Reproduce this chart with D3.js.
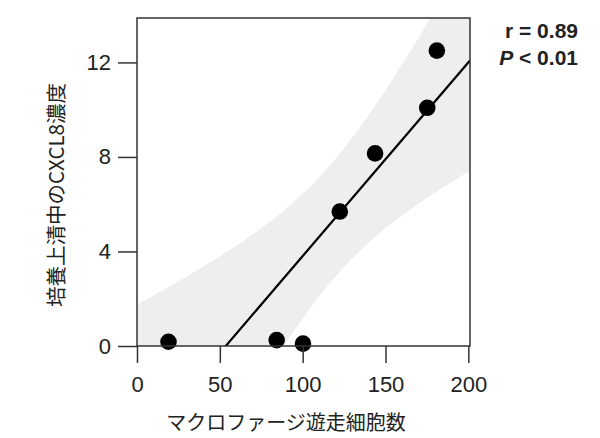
<!DOCTYPE html>
<html>
<head>
<meta charset="utf-8">
<script src="https://cdn.jsdelivr.net/npm/d3@7"></script>
<style>
  body { margin: 0; background: #fff; }
  text { font-family: "Liberation Sans", Arial, "Noto Sans CJK JP", sans-serif; fill: #222; }
  .jp { font-family: "Noto Sans CJK JP", "Liberation Sans", sans-serif; }
</style>
</head>
<body>
<div id="chart"></div>
<script>
// data
const migration = [19, 84.3, 100.2, 122.4, 143.7, 175.2, 181];   // x
const cxcl8 = [0.18, 0.25, 0.1, 5.69, 8.15, 10.08, 12.5];        // y
const xTicks = [0, 50, 100, 150, 200];
const yTicks = [0, 4, 8, 12];
const statLines = ["r = 0.89", "P < 0.01"];

const width = 600, height = 438;
const margin = { top: 18, right: 130, bottom: 92, left: 137 };

const x = d3.scaleLinear().domain([0, 201]).range([margin.left, width - margin.right]);
const y = d3.scaleLinear().domain([0, 13.88]).range([height - margin.bottom, margin.top]);

const svg = d3.select("#chart").append("svg")
    .attr("width", width)
    .attr("height", height);

// least squares fit + 95% confidence band
const n = migration.length;
const mx = d3.mean(migration), my = d3.mean(cxcl8);
let sxx = 0, sxy = 0;
migration.forEach((xi, i) => { sxx += (xi - mx) ** 2; sxy += (xi - mx) * (cxcl8[i] - my); });
const b = sxy / sxx, a = my - b * mx;
let sse = 0;
migration.forEach((xi, i) => { sse += (cxcl8[i] - (a + b * xi)) ** 2; });
const s = Math.sqrt(sse / (n - 2));
const tcrit = 2.5706; // df = 5

const grid = d3.range(0, 201.5, 1);
const band = grid.map(xv => {
    const fit = a + b * xv;
    const hw = tcrit * s * Math.sqrt(1 / n + (xv - mx) ** 2 / sxx);
    return { x: xv, lo: fit - hw, hi: fit + hw };
});

svg.append("clipPath").attr("id", "plotClip")
  .append("rect")
    .attr("x", x(0)).attr("y", y(13.88))
    .attr("width", x(201) - x(0)).attr("height", y(0) - y(13.88));

const plot = svg.append("g").attr("clip-path", "url(#plotClip)");

plot.append("path")
    .datum(band)
    .attr("fill", "#eeeeee")
    .attr("d", d3.area().x(d => x(d.x)).y0(d => y(d.lo)).y1(d => y(d.hi)));

plot.append("line")
    .attr("x1", x(0)).attr("y1", y(a))
    .attr("x2", x(201)).attr("y2", y(a + b * 201))
    .attr("stroke", "#000")
    .attr("stroke-width", 2.2);

// points
svg.selectAll("circle.pt")
    .data(migration.map((xi, i) => [xi, cxcl8[i]]))
    .enter().append("circle")
    .attr("class", "pt")
    .attr("cx", d => x(d[0]))
    .attr("cy", d => y(d[1]))
    .attr("r", 8.3)
    .attr("fill", "#000");

// box
svg.append("rect")
    .attr("x", x(0)).attr("y", y(13.88))
    .attr("width", x(201) - x(0)).attr("height", y(0) - y(13.88))
    .attr("fill", "none")
    .attr("stroke", "#333")
    .attr("stroke-width", 1.5);

// axes
const xAxis = svg.append("g")
    .attr("transform", `translate(0,${y(0)})`)
    .call(d3.axisBottom(x).tickValues(xTicks).tickSize(17).tickPadding(13));
const yAxis = svg.append("g")
    .attr("transform", `translate(${x(0)},0)`)
    .call(d3.axisLeft(y).tickValues(yTicks).tickSize(19).tickPadding(7));

[xAxis, yAxis].forEach(g => {
    g.select(".domain").remove();
    g.selectAll("line").attr("stroke", "#333").attr("stroke-width", 1.5);
    g.selectAll("text")
        .style("font-family", "'Liberation Sans', Arial, sans-serif")
        .style("font-size", "22px")
        .attr("fill", "#222");
});

// axis titles
svg.append("text")
    .attr("class", "jp")
    .attr("x", 286)
    .attr("y", 430)
    .attr("text-anchor", "middle")
    .style("font-size", "20px")
    .text("マクロファージ遊走細胞数");

svg.append("text")
    .attr("class", "jp")
    .attr("transform", "translate(63.5,195) rotate(-90)")
    .attr("text-anchor", "middle")
    .style("font-size", "20.5px")
    .text("培養上清中のCXCL8濃度");

// stats
const stats = svg.append("g").attr("transform", "translate(578,0)");
stats.append("text")
    .attr("y", 38)
    .attr("text-anchor", "end")
    .style("font-size", "21px")
    .style("font-weight", "bold")
    .text(statLines[0]);
const p = stats.append("text")
    .attr("y", 64.5)
    .attr("text-anchor", "end")
    .style("font-size", "21px")
    .style("font-weight", "bold");
p.append("tspan").style("font-style", "italic").text(statLines[1].slice(0, 1));
p.append("tspan").text(statLines[1].slice(1));
</script>
</body>
</html>
